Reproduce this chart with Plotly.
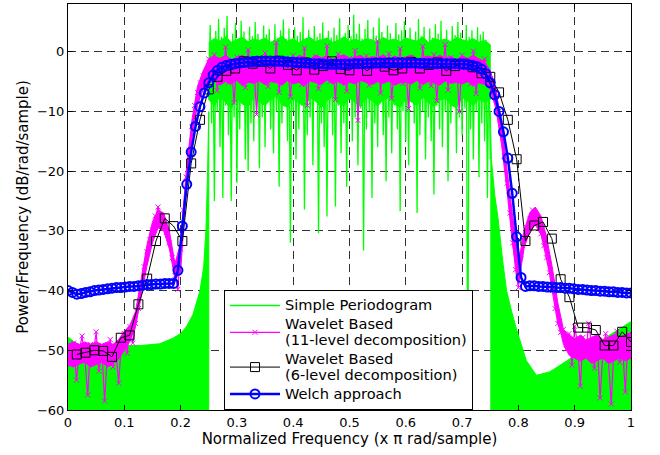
import plotly.graph_objects as go

# ---------------- data ----------------
x_tick_vals = [0, 0.1, 0.2, 0.3, 0.4, 0.5, 0.6, 0.7, 0.8, 0.9, 1.0]
x_tick_text = ["0", "0.1", "0.2", "0.3", "0.4", "0.5", "0.6", "0.7", "0.8", "0.9", "1"]
y_tick_vals = [-60, -50, -40, -30, -20, -10, 0]

# Simple periodogram: out-of-band upper envelopes (region below is densely filled)
green_left_x = [0.0, 0.02, 0.05, 0.10, 0.13, 0.163, 0.186, 0.20, 0.21, 0.222, 0.2345, 0.241, 0.245, 0.248, 0.25]
green_left_y = [-47.8, -49.2, -49.3, -49.3, -49.2, -48.9, -48.0, -47.2, -46.1, -44.0, -40.0, -36.0, -30.0, -20.0, -10.0]
green_right_x = [0.75, 0.752, 0.758, 0.764, 0.772, 0.779, 0.788, 0.797, 0.814, 0.832, 0.856, 0.897, 0.938, 1.0]
green_right_y = [-10.0, -18.0, -24.0, -28.0, -35.0, -40.0, -43.5, -46.6, -51.7, -54.2, -53.6, -51.1, -48.9, -45.2]

# Simple periodogram: dense passband core (bins 0.25 ... 0.75, step 0.01)
green_core_start = 0.25
green_core_step = 0.01
green_core_lo = [
    -8.0, -9.0, -7.5, -8.5, -9.5, -7.8, -8.8, -9.2, -7.6, -8.4,
    -9.0, -8.0, -7.4, -8.9, -9.3, -7.9, -8.6, -9.1, -7.7, -8.3,
    -9.4, -8.1, -7.5, -8.7, -9.0, -7.8, -8.5, -9.2, -7.6, -8.2,
    -9.1, -8.0, -7.7, -8.8, -9.3, -7.9, -8.4, -9.0, -7.5, -8.6,
    -9.2, -8.1, -7.8, -8.9, -9.4, -7.6, -8.3, -9.0, -7.9, -8.5,
    -8.0,
]
green_core_hi = [
    1.5, 2.2, 1.8, 2.5, 1.6, 2.0, 2.4, 1.7, 2.1, 1.9,
    2.3, 1.6, 2.0, 2.6, 1.8, 2.2, 1.5, 2.1, 2.4, 1.7,
    2.0, 2.3, 1.6, 1.9, 2.5, 1.8, 2.1, 1.7, 2.2, 2.0,
    1.6, 2.4, 1.9, 2.1, 1.7, 2.3, 2.0, 1.8, 2.5, 1.6,
    2.2, 1.9, 2.1, 1.7, 2.4, 2.0, 1.8, 2.2, 1.6, 1.9,
    1.2,
]
# Simple periodogram: passband samples (bins 0.25 ... 0.75, step 0.0025)
green_pass_start = 0.25
green_pass_step = 0.0025
green_pass_y = [
    -8, 4.5, -12, 2.0, -25, 3.5, -10, 5.5, -16, 2.5,
    -24.5, 4.0, -9, 6.0, -14, 1.5, -25, 3.0, -11, 4.8,
    -22, 2.2, -13, 5.2, -8, 3.4, -18, 1.2, -20, 4.2,
    -12, 2.6, -15, 5.0, -9, 3.0, -19.5, 1.8, -11, 4.4,
    -16, 2.9, -7.5, 3.8, -13, 1.4, -17, 4.6, -10, 2.3,
    -22.6, 3.6, -12, 5.4, -8.5, 2.1, -15, 3.9, -32, 1.6,
    -10, 4.1, -18, 2.7, -13, 3.3, -9, 5.8, -26.4, 2.0,
    -14, 3.7, -11, 1.9, -19, 4.3, -8, 2.5, -30.4, 3.1,
    -12, 4.9, -16, 1.7, -27.6, 3.5, -10, 2.4, -14, 4.0,
    -25.9, 2.8, -9, 5.6, -17, 1.3, -12, 3.2, -22.6, 4.5,
    -8, 2.6, -15, 6.2, -11, 3.0, -19, 4.7, -9.5, 2.2,
    -33.3, 3.8, -13, 5.3, -10, 1.9, -24.5, 4.1, -12, 2.7,
    -16, 5.7, -8.5, 3.3, -14, 2.0, -21.7, 4.4, -11, 3.1,
    -17, 1.5, -9, 4.8, -13, 2.9, -26.7, 3.6, -10, 5.1,
    -15, 2.3, -19, 4.0, -8, 1.8, -12, 3.4, -27, 5.5,
    -14, 2.6, -10, 4.2, -18, 1.6, -11, 3.9, -15, 2.4,
    -23.9, 4.6, -9, 3.0, -13, 5.2, -16, 2.1, -10, 3.7,
    -21.7, 1.4, -12, 4.3, -8.5, 2.8, -17, 5.0, -11, 3.2,
    -14, 1.9, -9.5, 4.5, -60, 2.5, -13, 3.6, -18, 1.7,
    -10, 4.1, -21, 2.9, -12, 3.4, -15, 2.0, -24.5, 1.0,
    -18,
]

# Wavelet based, 11-level decomposition: dense core band (step 0.01)
wav11_core_step = 0.01
wav11_core_lo = [
    -52.5, -52.8, -52.3, -52.0, -52.8, -52.4, -52.0, -52.8, -52.3, -51.5,
    -50.0, -48.5, -46.0, -41.0, -36.0, -32.0, -29.5, -30.0, -33.0, -38.0,
    -37.0, -23.0, -14.5, -9.0, -6.3,
    -5.2, -4.9, -5.6, -5.0, -5.4, -4.8, -5.7, -5.1, -5.3, -4.9,
    -5.5, -5.0, -5.2, -5.6, -4.8, -5.4, -5.1, -5.7, -4.9, -5.2,
    -5.5, -4.7, -5.3, -5.0, -5.6, -5.1, -5.4, -4.8, -5.2, -5.5,
    -5.0, -5.3, -4.9, -5.6, -5.2, -5.1, -5.4, -4.8, -5.5, -5.0,
    -5.2, -5.6, -4.9, -5.3, -5.1, -5.4, -5.0, -5.7, -5.2, -5.5,
    -6.3, -9.5, -15.5, -23.5, -32.5, -39.0, -33.0, -30.0, -29.0, -30.5,
    -34.0, -39.0, -45.0, -49.0, -50.8, -51.3, -51.8, -51.3, -52.2, -51.8,
    -51.3, -52.2, -51.8, -51.3, -51.8, -51.3,
]
wav11_core_hi = [
    -49.0, -48.6, -49.0, -48.6, -49.0, -48.6, -49.0, -48.6, -49.0, -48.2,
    -46.8, -45.8, -43.5, -38.0, -32.5, -28.5, -26.5, -27.0, -30.0, -35.5,
    -32.0, -20.0, -11.5, -5.8, -3.2,
    -1.2, -0.8, -1.1, -0.6, -1.3, -0.9, -0.6, -1.2, -0.8, -1.0,
    -0.7, -1.3, -0.6, -1.1, -0.8, -1.4, -0.6, -0.9, -1.2, -0.6,
    -1.0, -0.7, -1.3, -0.8, -0.5, -1.1, -0.9, -0.6, -1.2, -0.8,
    -1.0, -0.5, -1.3, -0.7, -1.1, -0.8, -0.6, -1.2, -0.9, -0.7,
    -1.1, -0.6, -1.0, -0.8, -1.3, -0.7, -1.1, -0.6, -1.2, -1.6,
    -3.2, -6.3, -12.0, -20.0, -28.0, -35.5, -30.0, -27.0, -26.0, -27.5,
    -31.0, -36.0, -42.0, -46.5, -47.5, -48.0, -47.5, -48.3, -47.8, -47.4,
    -48.2, -47.8, -47.4, -47.8, -47.4, -47.0,
]
# Wavelet based, 11-level decomposition: samples (step 0.005)
wav11_step = 0.005
wav11_y = [
    -49.5, -52.0, -48.8, -55.0, -50.2, -47.6, -51.5, -57.5, -49.0, -50.8,
    -46.9, -53.5, -49.6, -58.5, -50.5, -48.2, -52.8, -49.9, -55.5,
    -48.5, -47.2, -50.5, -46.0, -48.8, -45.5,
    -43.0, -39.5, -36.0, -33.5, -31.5, -29.8, -27.5, -26.0, -27.8, -28.5,
    -30.2, -32.0, -34.5, -37.5, -39.8, -33.0, -26.5, -21.0, -16.5, -12.5,
    -9.0, -6.8, -5.2, -4.0, -3.5,
    -1.2, -4.8, -0.5, -6.5, -1.8, -3.9, 0.8, -5.2, -2.0, -8.5,
    -0.9, -4.2, -1.5, -6.0, 0.3, -3.6, -2.2, -10.5, -1.0, -4.5,
    -0.2, -5.8, -1.7, -3.8, 1.5, -6.8, -1.3, -4.0, -2.5, -7.5,
    -0.6, -3.5, -1.9, -5.5, 0.6, -9.0, -1.4, -4.3, -0.8, -6.2,
    -2.1, -3.7, 1.0, -5.0, -1.6, -8.0, -0.4, -4.6, -2.3, -6.6,
    -1.1, -3.9, 0.2, -11.5, -1.5, -4.4, -0.7, -5.6, -2.0, -3.6,
    1.8, -6.9, -1.2, -4.1, -0.3, -7.8, -1.8, -3.8, 0.5, -5.3,
    -2.4, -9.5, -0.9, -4.2, -1.6, -6.1, 0.9, -3.7, -1.3, -5.7,
    -0.5, -8.2, -2.2, -4.0, 1.2, -6.4, -1.0, -4.7, -1.9, -10.0,
    -0.6, -3.9, -1.4, -5.4, 0.1, -7.0, -2.0, -4.3, -1.2, -4.0,
    -4.5, -5.5, -7.5, -10.0, -13.5, -17.5, -22.0, -27.0, -32.0, -36.5,
    -39.5, -34.0, -31.0, -29.5, -28.0, -26.5, -27.2, -28.8, -30.5, -32.5,
    -34.5, -37.0, -40.0, -43.0, -45.5, -47.0,
    -46.5, -49.8, -47.2, -52.5, -46.0, -48.9, -56.0, -47.8, -50.2, -45.5,
    -49.0, -53.0, -48.0, -58.0, -50.5, -47.2, -51.8, -59.0, -48.6, -46.8,
    -52.0, -49.5, -57.0, -47.5, -49.0,
]

# Wavelet based, 6-level decomposition (bins k/64, k = 1..64)
wav6_n = 64
wav6_y = [
    -50.7, -50.4, -50.0, -50.1, -51.1, -47.9, -47.5, -42.3, -38.0, -31.7,
    -27.9, -29.2, -31.7, -18.7, -11.4, -6.3, -4.2, -3.2, -2.8, -1.6,
    -2.0, -1.7, -2.8, -1.5, -2.2, -3.1, -1.8, -3.0, -2.4, -1.6,
    -2.9, -3.1, -2.0, -3.2, -1.9, -2.5, -3.1, -2.8, -1.7, -2.8,
    -2.2, -1.8, -3.2, -2.4, -2.0, -2.6, -3.6, -4.2, -6.8, -11.4,
    -18.0, -31.7, -29.1, -28.5, -31.3, -38.1, -41.1, -46.2, -46.2, -46.6,
    -49.2, -49.2, -46.9, -48.6,
]

# Welch approach (bins k/128, k = 0..128)
welch_n = 128
welch_y = [
    -40.0, -40.3, -40.6, -40.5, -40.3, -40.2, -40.0, -39.9, -39.8, -39.7,
    -39.6, -39.5, -39.5, -39.4, -39.3, -39.3, -39.2, -39.1, -39.0, -39.0,
    -38.9, -38.9, -38.8, -38.8, -38.8,
    -36.6, -29.2, -22.2, -16.8, -12.5, -9.2, -6.9, -5.2, -3.9, -3.1,
    -2.6, -2.3, -2.1, -2.0,
    -1.9, -1.8, -1.7, -1.65, -1.6, -1.55, -1.55, -1.55, -1.6, -1.6, -1.65, -1.7,
    -1.75, -1.8, -1.85, -1.9, -1.95, -2.0, -2.0, -2.05, -2.1, -2.1,
    -2.1, -2.1, -2.05, -2.05, -2.0, -2.0, -2.0, -1.95, -1.95, -1.9,
    -1.9, -1.9, -1.85, -1.85, -1.85, -1.85, -1.9, -1.9, -1.9, -1.95,
    -1.95, -1.95, -2.0, -2.0, -2.0, -2.0, -2.0, -2.0, -2.05, -2.1, -2.15,
    -2.3, -2.5, -2.9, -3.7, -5.2, -7.2, -10.0, -13.4, -17.8, -23.7,
    -31.0, -37.8, -39.3,
    -39.2, -39.2, -39.3, -39.3, -39.4, -39.4, -39.5, -39.5, -39.6, -39.6,
    -39.7, -39.8, -39.8, -39.9, -40.0, -40.0, -40.1, -40.1, -40.2, -40.2,
    -40.3, -40.3, -40.4, -40.4,
]

legend_lines = [
    ["Simple Periodogram"],
    ["Wavelet Based", "(11-level decomposition)"],
    ["Wavelet Based", "(6-level decomposition)"],
    ["Welch approach"],
]

Y_FLOOR = -60

# ---------------- figure ----------------
GREEN = "#00FF00"
MAGENTA = "#FF00FF"
BLUE = "#0000FF"
LEGEND_TEXT_PX = 14.6


def legend_label(lines):
    # text drawn at a larger size than the legend's line pitch, giving the
    # tight line spacing of the original legend
    return "<br>".join(
        '<span style="font-size:%.1fpx">%s</span>' % (LEGEND_TEXT_PX, s) for s in lines)


def band(xs, lo, hi, color):
    """Filled band between two typed value arrays."""
    return go.Scatter(
        x=xs + xs[::-1], y=hi + lo[::-1], mode="lines", fill="toself",
        fillcolor=color, line=dict(color=color, width=1),
        showlegend=False, hoverinfo="skip")


fig = go.Figure()

# out-of-band periodogram (dense region under the envelope)
fig.add_trace(go.Scatter(
    x=green_left_x + [green_left_x[-1], green_left_x[0]],
    y=green_left_y + [Y_FLOOR, Y_FLOOR],
    mode="lines", fill="toself", fillcolor=GREEN,
    line=dict(color=GREEN, width=1), showlegend=False, hoverinfo="skip"))
fig.add_trace(go.Scatter(
    x=green_right_x + [green_right_x[-1], green_right_x[0]],
    y=green_right_y + [Y_FLOOR, Y_FLOOR],
    mode="lines", fill="toself", fillcolor=GREEN,
    line=dict(color=GREEN, width=1), showlegend=False, hoverinfo="skip"))

green_core_x = [green_core_start + green_core_step * j for j in range(len(green_core_lo))]
fig.add_trace(band(green_core_x, green_core_lo, green_core_hi, GREEN))

green_pass_x = [green_pass_start + green_pass_step * j for j in range(len(green_pass_y))]
fig.add_trace(go.Scatter(
    x=green_pass_x, y=green_pass_y, mode="lines",
    line=dict(color=GREEN, width=1.3), name=legend_label(legend_lines[0])))

wav11_core_x = [wav11_core_step * i for i in range(len(wav11_core_lo))]
fig.add_trace(band(wav11_core_x, wav11_core_lo, wav11_core_hi, MAGENTA))

wav11_x = [wav11_step * i for i in range(len(wav11_y))]
fig.add_trace(go.Scatter(
    x=wav11_x, y=wav11_y, mode="lines+markers",
    line=dict(color=MAGENTA, width=1.2),
    marker=dict(symbol="x-thin", size=5, color=MAGENTA,
                line=dict(color=MAGENTA, width=1)),
    name=legend_label(legend_lines[1])))

wav6_x = [(k + 1) / wav6_n for k in range(len(wav6_y))]
fig.add_trace(go.Scatter(
    x=wav6_x, y=wav6_y, mode="lines+markers",
    line=dict(color="black", width=1),
    marker=dict(symbol="square-open", size=9, color="black",
                line=dict(color="black", width=1)),
    name=legend_label(legend_lines[2])))

welch_x = [k / welch_n for k in range(len(welch_y))]
fig.add_trace(go.Scatter(
    x=welch_x, y=welch_y, mode="lines+markers",
    line=dict(color=BLUE, width=2.5),
    marker=dict(symbol="circle-open", size=9, color=BLUE,
                line=dict(color=BLUE, width=2)),
    name=legend_label(legend_lines[3])))

axis_common = dict(
    showline=True, linecolor="black", linewidth=1, mirror="ticks",
    ticks="inside", ticklen=5, tickcolor="black", tickwidth=1,
    showgrid=True, gridcolor="#333333", gridwidth=1, griddash="8px,5px",
    zeroline=False, automargin=False,
    tickfont=dict(family="DejaVu Sans", size=13, color="black"),
)

fig.update_xaxes(
    range=[0, 1], tickvals=x_tick_vals, ticktext=x_tick_text,
    title=dict(text="Normalized Frequency (x \u03c0 rad/sample)",
               font=dict(family="DejaVu Sans", size=15, color="black"),
               standoff=3),
    **axis_common)
fig.update_yaxes(
    range=[-60, 8], tickvals=y_tick_vals,
    title=dict(text="Power/Frequency (dB/rad/sample)",
               font=dict(family="DejaVu Sans", size=15, color="black"),
               standoff=4),
    **axis_common)

fig.update_layout(
    width=660, height=455,
    margin=dict(l=68, r=29, t=4, b=45),
    paper_bgcolor="white", plot_bgcolor="white",
    legend=dict(
        x=(224 - 68) / 563, y=0, xanchor="left", yanchor="bottom",
        bgcolor="white", bordercolor="black", borderwidth=1,
        font=dict(family="DejaVu Sans", size=12.2, color="black"),
        itemwidth=50, tracegroupgap=0,
    ),
    showlegend=True,
)

fig.write_html("out.html")
